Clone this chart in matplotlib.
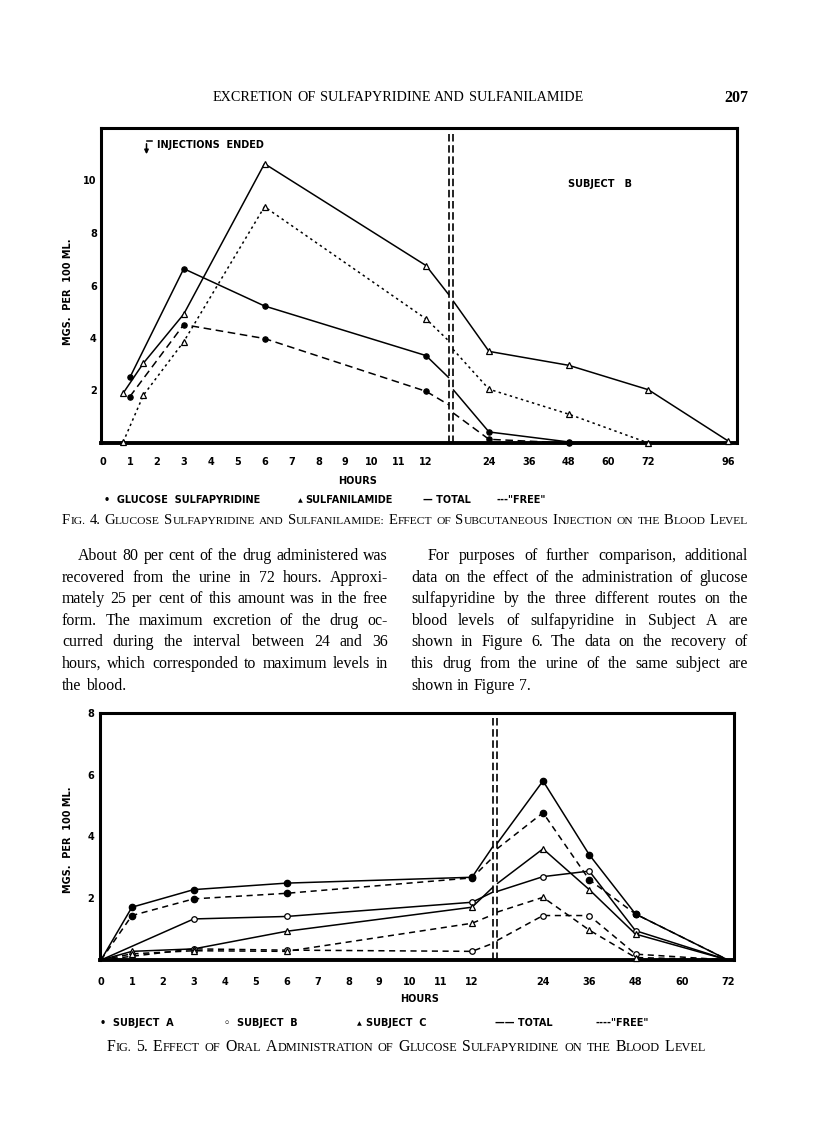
import numpy as np
import matplotlib
matplotlib.use('Agg')
import matplotlib.pyplot as plt
from matplotlib.patches import FancyArrowPatch
from matplotlib.lines import Line2D

W, H = 816, 1139
SANS = ['DejaVu Sans']
SERIF = ['Liberation Serif', 'DejaVu Serif']

# ---- Fig. 4 data (hours, mg per 100 ml) ----
gs_hours = [1, 3, 6, 12, 24, 48]
gs_total = [2.5, 6.64, 5.22, 3.33, 0.42, 0.04]
gs_free = [1.77, 4.51, 3.98, 1.97, 0.14, 0.0]
gs_total_brk = [2.48, 2.04]
gs_free_brk = [1.45, 1.15]
sa_hours = [0.75, 1.5, 3, 6, 12, 24, 48, 72, 96]
sa_total = [1.9, 3.04, 4.91, 10.64, 6.76, 3.49, 2.96, 2.03, 0.08]
sa_total_brk = [5.64, 5.42]
sa_free_hours = [0.75, 1.5, 3, 6, 12, 24, 48, 72]
sa_free = [0.04, 1.82, 3.86, 9.0, 4.73, 2.05, 1.1, 0.0]
sa_free_brk = [3.88, 3.57]
fig4_ticks = [0, 1, 2, 3, 4, 5, 6, 7, 8, 9, 10, 11, 12, 24, 36, 48, 60, 72, 96]

# ---- Fig. 5 data ----
a_hours = [0, 1, 3, 6, 12, 24, 36, 48, 72]
a_total = [0, 1.71, 2.28, 2.49, 2.68, 5.8, 3.41, 1.49, 0]
a_free = [0, 1.44, 1.98, 2.16, 2.66, 4.77, 2.6, 1.49, 0]
a_total_brk = [3.68, 3.77]
a_free_brk = [3.33, 3.6]
b_hours = [0, 3, 6, 12, 24, 36, 48, 72]
b_total = [0, 1.33, 1.41, 1.87, 2.7, 2.88, 0.95, 0]
b_free = [0, 0.36, 0.32, 0.28, 1.44, 1.44, 0.19, 0]
b_total_brk = [2.2, 2.22]
b_free_brk = [0.54, 0.63]
c_hours = [0, 1, 3, 6, 12, 24, 36, 48, 72]
c_total = [0, 0.28, 0.36, 0.93, 1.71, 3.6, 2.28, 0.84, 0]
c_free = [0, 0.2, 0.3, 0.28, 1.19, 2.03, 0.97, 0.08, 0]
c_total_brk = [2.36, 2.47]
c_free_brk = [1.47, 1.55]
fig5_ticks = [0, 1, 2, 3, 4, 5, 6, 7, 8, 9, 10, 11, 12, 24, 36, 48, 60, 72]


def broken_scale(h_nodes, p_nodes):
    fwd = lambda h: np.interp(h, h_nodes, p_nodes)
    inv = lambda p: np.interp(p, p_nodes, h_nodes)
    return fwd, inv


fig = plt.figure(figsize=(W / 100, H / 100), dpi=100)
fig.patch.set_facecolor('white')


def setup_axes(rect, fwd, inv, width_px, ylim, yticks, ticks, tpad, ypad):
    ax = fig.add_axes(rect)
    ax.set_xscale('function', functions=(fwd, inv))
    ax.set_xlim(inv(0), inv(width_px))
    ax.set_ylim(*ylim)
    ax.set_xticks(ticks)
    ax.set_xticklabels([str(t) for t in ticks])
    ax.set_yticks(yticks)
    ax.set_yticklabels([str(t) for t in yticks])
    ax.tick_params(length=0, labelsize=7)
    ax.tick_params(axis='x', pad=tpad)
    ax.tick_params(axis='y', pad=ypad)
    for lab in ax.get_xticklabels() + ax.get_yticklabels():
        lab.set_fontweight('bold')
        lab.set_family(SANS)
    for s in ax.spines.values():
        s.set_linewidth(2.2)
    ax.spines['bottom'].set_linewidth(2.8)
    return ax


def draw_series(ax, hours, vals, brk, brk_x, ls, marker, mfc, ms, skip_ends=False):
    h = np.array(hours, float)
    v = np.array(vals, float)
    left = h <= 12
    right = h >= 24
    xl = np.append(h[left], brk_x[0])
    yl = np.append(v[left], brk[0])
    xr = np.insert(h[right], 0, brk_x[1])
    yr = np.insert(v[right], 0, brk[1])
    for xx, yy in ((xl, yl), (xr, yr)):
        ax.plot(xx, yy, color='black', lw=1.1, ls=ls, solid_capstyle='butt', clip_on=False)
    mk = np.ones(len(h), bool)
    if skip_ends:
        mk = (h > 0) & (h < 72)
    ax.plot(h[mk], v[mk], ls='none', marker=marker, mfc=mfc, mec='black',
            mew=0.9, ms=ms, color='black', clip_on=False, zorder=4)


def break_lines(ax, xs, top=1.0):
    for x in xs:
        ax.axvline(x, ymin=0, ymax=top, color='black', lw=1.2, ls=(0, (4.5, 2.2)))


# ---------- Fig. 4 ----------
f4_fwd, f4_inv = broken_scale([-20, 0, 12, 24, 96, 300], [2 - 20 * 26.9, 2, 325, 388, 627, 627 + 204 * 239 / 72])
ax4 = setup_axes([101 / W, 1 - 443 / H, 636 / W, 315 / H], f4_fwd, f4_inv, 636,
                 (0, 12), [2, 4, 6, 8, 10], fig4_ticks, 10, 3)
brk4 = [f4_inv(348), f4_inv(352)]
break_lines(ax4, brk4, top=0.985)
dash4 = (0, (5, 3))
dot4 = (0, (1.6, 2.2))
draw_series(ax4, gs_hours, gs_total, gs_total_brk, brk4, '-', 'o', 'black', 3.8)
draw_series(ax4, gs_hours, gs_free, gs_free_brk, brk4, dash4, 'o', 'black', 3.8)
draw_series(ax4, sa_hours, sa_total, sa_total_brk, brk4, '-', '^', 'white', 4.2)
draw_series(ax4, sa_free_hours, sa_free, sa_free_brk, brk4, dot4, '^', 'white', 4.2)

# ---------- Fig. 5 ----------
f5_fwd, f5_inv = broken_scale([-20, 0, 12, 24, 72, 300], [1 - 20 * 30.9, 1, 372, 443, 628, 628 + 228 * 185 / 48])
ax5 = setup_axes([100 / W, 1 - 960 / H, 634 / W, 247 / H], f5_fwd, f5_inv, 634,
                 (0, 8), [2, 4, 6, 8], fig5_ticks, 12, 4)
brk5 = [f5_inv(393), f5_inv(397)]
break_lines(ax5, brk5)
dash5 = (0, (4, 3))
draw_series(ax5, a_hours, a_total, a_total_brk, brk5, '-', 'o', 'black', 4.6, True)
draw_series(ax5, a_hours, a_free, a_free_brk, brk5, dash5, 'o', 'black', 4.6, True)
draw_series(ax5, b_hours, b_total, b_total_brk, brk5, '-', 'o', 'white', 4.0, True)
draw_series(ax5, b_hours, b_free, b_free_brk, brk5, dash5, 'o', 'white', 4.0, True)
draw_series(ax5, c_hours, c_total, c_total_brk, brk5, '-', '^', 'white', 4.2, True)
draw_series(ax5, c_hours, c_free, c_free_brk, brk5, dash5, '^', 'white', 4.2, True)

# ---------- text helpers (pixel coordinates, y from top) ----------
renderer = fig.canvas.get_renderer()


def ptext(x, y, s, **kw):
    return fig.text(x / W, 1 - y / H, s, **kw)


def tw(s, **kw):
    t = fig.text(0, 0, s, **kw)
    w = t.get_window_extent(renderer).width
    t.remove()
    return w


def sc_runs(word, size, small=0.78):
    runs = []
    for ch in word:
        if ch.islower():
            s, c = size * small, ch.upper()
        elif ch.isupper() or ch.isdigit():
            s, c = size, ch
        else:
            s, c = (runs[-1][1] if runs else size), ch
        if runs and runs[-1][1] == s:
            runs[-1][0] += c
        else:
            runs.append([c, s])
    return runs


def set_line(words, x0, x1, y, fam, justify=True, weight='normal'):
    widths = [[tw(r, fontsize=s, family=fam, weight=weight) for r, s in wr] for wr in words]
    total = sum(sum(w) for w in widths)
    if justify and len(words) > 1:
        gap = (x1 - x0 - total) / (len(words) - 1)
    else:
        gap = 0.26 * words[0][0][1] * 1.389
    x = x0
    for wr, ws in zip(words, widths):
        for (r, s), w in zip(wr, ws):
            ptext(x, y, r, fontsize=s, family=fam, weight=weight, va='baseline', ha='left')
            x += w
        x += gap


def fit_line(text, x0, x1, y, size, fam, smallcaps=False, weight='normal'):
    def build(sz):
        if smallcaps:
            return [sc_runs(w, sz) for w in text.split()]
        return [[[w, sz]] for w in text.split()]
    words = build(size)
    total = sum(tw(r, fontsize=s, family=fam, weight=weight) for wr in words for r, s in wr)
    sp = 0.3 * size * 1.389 * (len(words) - 1)
    f = (x1 - x0) / (total + sp)
    set_line(build(size * f), x0, x1, y, fam, True, weight)


def body(lines, x0, x1, y0, indent, size=11.4):
    for i, ln in enumerate(lines):
        words = [[[w, size]] for w in ln.split()]
        last = i == len(lines) - 1
        set_line(words, x0 + (indent if i == 0 else 0), x1, y0 + i * 21.6, SERIF, justify=not last)


# ---------- page header ----------
fit_line('EXCRETION OF SULFAPYRIDINE AND SULFANILAMIDE', 213, 583, 101, 9.5, SERIF)
ptext(748, 102, '207', fontsize=11.5, family=SERIF, weight='bold', ha='right', va='baseline')

lab = dict(fontsize=7.0, family=SANS, weight='bold')
sym = dict(fontsize=4.5, family=SANS)

# ---------- Fig. 4 labels ----------
ptext(157, 145, 'INJECTIONS  ENDED', va='center', ha='left', **lab)
fig.add_artist(Line2D([146.5 / W, 151.5 / W], [1 - 141 / H, 1 - 141 / H], color='black', lw=1.1))
fig.add_artist(FancyArrowPatch((146.5 / W, 1 - 141 / H), (146.5 / W, 1 - 157 / H),
                               transform=fig.transFigure, arrowstyle='-|>', mutation_scale=6,
                               color='black', lw=1.1))
ptext(600, 184, 'SUBJECT   B', va='center', ha='center', **lab)
ptext(68, 292, 'MGS.  PER  100 ML.', rotation=90, va='center', ha='center', **lab)
ptext(358, 481, 'HOURS', va='center', ha='center', **lab)
ptext(104, 500, '•  GLUCOSE  SULFAPYRIDINE', va='center', ha='left', **lab)
ptext(298, 500.5, '▲', va='center', ha='left', **sym)
ptext(305, 500, 'SULFANILAMIDE', va='center', ha='left', **lab)
ptext(423, 500, '— TOTAL', va='center', ha='left', **lab)
ptext(497, 500, '---"FREE"', va='center', ha='left', **lab)
fit_line('Fig. 4.  Glucose Sulfapyridine and Sulfanilamide: Effect of Subcutaneous Injection on the Blood Level',
         62, 748, 524, 9.0, SERIF, smallcaps=True)

# ---------- body text ----------
left_col = [
    'About 80 per cent of the drug administered was',
    'recovered from the urine in 72 hours.  Approxi-',
    'mately 25 per cent of this amount was in the free',
    'form.  The maximum excretion of the drug oc-',
    'curred during the interval between 24 and 36',
    'hours, which corresponded to maximum levels in',
    'the blood.',
]
right_col = [
    'For purposes of further comparison, additional',
    'data on the effect of the administration of glucose',
    'sulfapyridine by the three different routes on the',
    'blood levels of sulfapyridine in Subject A are',
    'shown in Figure 6.  The data on the recovery of',
    'this drug from the urine of the same subject are',
    'shown in Figure 7.',
]
body(left_col, 62, 388, 560, 16)
body(right_col, 411, 748, 560, 17)

# ---------- Fig. 5 labels ----------
ptext(68, 840, 'MGS.  PER  100 ML.', rotation=90, va='center', ha='center', **lab)
ptext(420, 999, 'HOURS', va='center', ha='center', **lab)
ptext(100, 1023, '•  SUBJECT  A', va='center', ha='left', **lab)
ptext(224, 1023, '◦  SUBJECT  B', va='center', ha='left', **lab)
ptext(357, 1023.5, '▲', va='center', ha='left', **sym)
ptext(366, 1023, 'SUBJECT  C', va='center', ha='left', **lab)
ptext(495, 1023, '—— TOTAL', va='center', ha='left', **lab)
ptext(595, 1023, '----"FREE"', va='center', ha='left', **lab)
fit_line('Fig. 5.  Effect of Oral Administration of Glucose Sulfapyridine on the Blood Level',
         107, 706, 1051, 9.0, SERIF, smallcaps=True)

fig.savefig('out.png', dpi=100, facecolor='white')
